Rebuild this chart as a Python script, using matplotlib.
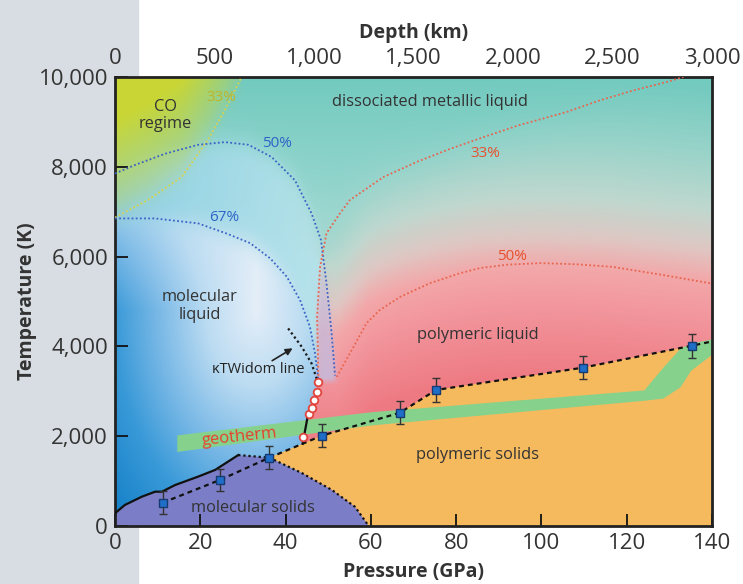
import numpy as np
import matplotlib.pyplot as plt
from matplotlib.colors import to_rgb
from matplotlib.patches import Rectangle

plt.rcParams['font.family'] = ['Open Sans', 'DejaVu Sans']

# ---- data (pressure in GPa, temperature in K) ----
# measured melting points with error bars
pts_P = [11.2, 24.6, 36.2, 48.5, 66.8, 75.3, 109.7, 135.3]
pts_T = [520, 1025, 1522, 2012, 2523, 3030, 3526, 4016]
pts_err = [255, 250, 260, 250, 260, 260, 260, 270]
melt_end = (140, 4110)   # where the dashed melting line leaves the frame

# top of molecular solids (solid black)
mol_P = [0, 2.3, 6.3, 9.4, 11, 14.1, 19.5, 23.5, 28.9]
mol_T = [283, 468, 653, 764, 764, 913, 1100, 1250, 1580]
# molecular solid / polymeric solid boundary (dotted)
ss_P = [36.2, 43.8, 50.9, 56.3, 59.5]
ss_T = [1522, 1180, 800, 425, 0]
# molecular liquid / polymeric liquid transition
bl_P = [44.0, 45.3]
bl_T = [1830, 2500]
circ_P = [44.1, 45.4, 46.1, 46.7, 47.3, 47.7]
circ_T = [1980, 2500, 2620, 2800, 2990, 3200]
# Widom line
widom_P = [40.6, 43.8, 46.1, 47.4]
widom_T = [4400, 3990, 3620, 3250]
# dissociation contours
y33_P = [0, 7.7, 15.6, 21.8, 25.8, 29.7]
y33_T = [6870, 7260, 7770, 8600, 9270, 10000]
b50_P = [0, 4.7, 11.7, 19.5, 25.8, 31.3, 36.7, 42.2, 46.1, 48.3, 49.6, 50.8, 51.6]
b50_T = [7850, 8040, 8290, 8490, 8550, 8490, 8220, 7700, 6960, 6370, 5400, 4290, 3350]
b67_P = [0, 9.4, 19.5, 26, 31.7, 36.4, 40.3, 43.4, 45.7, 46.9, 47.7]
b67_T = [6850, 6850, 6740, 6520, 6300, 5960, 5550, 5030, 4440, 3850, 3250]
r33_P = [47.7, 47.4, 48.1, 49.6, 52.8, 55.1, 62.9, 70.8, 78.6, 86.4, 94.5,
         105.9, 113.7, 121.5, 129.4, 133.3]
r33_T = [3250, 4660, 5775, 6520, 6970, 7260, 7770, 8110, 8400, 8660, 8920,
         9220, 9480, 9700, 9890, 10000]
r50_P = [52, 56, 59, 62.1, 66.8, 73.9, 80.9, 85.6, 92, 99.7, 108, 116.8, 128.5, 140]
r50_T = [3320, 4000, 4520, 4810, 5100, 5410, 5630, 5745, 5820, 5855, 5830, 5770, 5590, 5400]
# geotherm band
geo_P = [14.5, 60, 124, 128.5, 132.5, 135, 140]
geo_hi = [2030, 2545, 3030, 3540, 3960, 4070, 4170]
geo_lo = [1660, 2250, 2800, 2850, 3100, 3470, 3830]

p_ticks = [0, 20, 40, 60, 80, 100, 120, 140]
t_ticks = [0, 2000, 4000, 6000, 8000, 10000]
t_labels = ['0', '2,000', '4,000', '6,000', '8,000', '10,000']
d_ticks = [0, 500, 1000, 1500, 2000, 2500, 3000]
d_labels = ['0', '500', '1,000', '1,500', '2,000', '2,500', '3,000']


def sig(x):
    return 1.0 / (1.0 + np.exp(-np.clip(x, -40, 40)))


def ramp(x, knots, cols):
    c = np.array([to_rgb(k) for k in cols])
    return np.stack([np.interp(x, knots, c[:, i]) for i in range(3)], axis=-1)


def mix(a, b, w):
    return a * (1 - w[..., None]) + b * w[..., None]


# ---- painted background of the liquid field ----
P = np.linspace(0, 140, 700)
T = np.linspace(0, 10000, 500)
PP, TT = np.meshgrid(P, T)

d_low = np.sqrt(((PP - 33) / 33) ** 2 + ((TT - 4800) / 4800) ** 2)
d_high = np.abs(PP - 33) / 33 * (1 - 0.4 * np.clip((TT - 4800) / 2000, 0, 1))
d = np.where(TT < 4800, d_low, d_high)
left = ramp(d, [0, 0.35, 0.7, 1.0, 1.35],
            ['#e4eef8', '#bcdcf2', '#78b8e6', '#3a9ad8', '#1782c9'])
T67 = np.interp(PP, b67_P, b67_T)
left = mix(left, ramp(PP, [0, 45], ['#8ccfe2', '#b4e2ea']), sig((TT - T67) / 150))
T50 = np.interp(PP, b50_P, b50_T)
left = mix(left, ramp(TT, [7000, 10000], ['#9cd8d2', '#72cabe']), sig((TT - T50) / 150))
Ty = np.interp(PP, y33_P, y33_T, right=1e5)
wy = sig((TT - Ty) / 120) * (0.2 + 0.8 * np.clip((TT - Ty) / 2200, 0, 1))
left = mix(left, ramp(TT, [0, 1], ['#cad634', '#cad634']), wy)

shift = 0.6 * (5800 - np.interp(PP, r50_P, r50_T))
right = ramp(TT + shift, [0, 3300, 4800, 5700, 6400, 7300, 8600, 10000],
             ['#ec737c', '#ee7b84', '#f2959c', '#f3a7a9', '#dfc7c3',
              '#bfd8cf', '#98d3c9', '#74cabf'])

Pb = np.interp(TT, bl_T + r33_T, bl_P + r33_P)
width = 0.25 + 10 * np.clip((TT - 5800) / 2500, 0, 1)
img = mix(left, right, sig((PP - Pb) / width))
Pb50 = np.interp(TT, b50_T[-5:][::-1], b50_P[-5:][::-1])
wl = sig((PP - Pb) / 0.3) * sig((Pb50 - PP) / 0.3) * \
    np.interp(TT, [3150, 3300, 5000, 6300], [0, 0.9, 0.7, 0])
img = mix(img, ramp(TT, [0, 1], ['#c6badb', '#c6badb']), wl)

# ---- figure ----
fig = plt.figure(figsize=(7.43, 5.84), dpi=100)
fig.patches.append(Rectangle((0, 0), 138 / 743, 1, transform=fig.transFigure,
                             color='#d7dde2', zorder=-10))
ax = fig.add_axes([115 / 743, 58 / 584, 597 / 743, 449 / 584])
ax.imshow(img, extent=[0, 140, 0, 10000], origin='lower', aspect='auto',
          interpolation='bilinear', zorder=0)

# solid phases
ax.fill(pts_P[2:] + [melt_end[0], melt_end[0]] + ss_P[::-1],
        pts_T[2:] + [melt_end[1], 0] + ss_T[::-1], color='#f5b95e', lw=0, zorder=1)
ax.fill([0] + mol_P + ss_P + [0], [0] + mol_T + ss_T + [0],
        color='#7b7ec6', lw=0, zorder=1)
ax.fill_between(geo_P, geo_lo, geo_hi, color='#86d28c', lw=0, zorder=2)

dot = (0, (1, 1.3))
ax.plot(y33_P, y33_T, color='#d9d34a', lw=1.3, ls=dot, zorder=3)
ax.plot(b50_P, b50_T, color='#3b62c6', lw=1.3, ls=dot, zorder=3)
ax.plot(b67_P, b67_T, color='#3b62c6', lw=1.3, ls=dot, zorder=3)
ax.plot(r33_P, r33_T, color='#e8644e', lw=1.3, ls=dot, zorder=3)
ax.plot(r50_P, r50_T, color='#e8644e', lw=1.3, ls=dot, zorder=3)
ax.plot(widom_P, widom_T, color='#1a1a1a', lw=1.6, ls=dot, zorder=3)

ax.plot(mol_P, mol_T, color='#111111', lw=1.6, zorder=3)
ax.plot([mol_P[-1], pts_P[2]], [mol_T[-1], pts_T[2]], color='#111111', lw=1.6, ls=dot, zorder=3)
ax.plot(ss_P, ss_T, color='#111111', lw=1.6, ls=dot, zorder=3)
ax.plot(bl_P, bl_T, color='#111111', lw=1.6, zorder=3)
ax.plot(pts_P + [melt_end[0]], pts_T + [melt_end[1]], color='#111111', lw=1.6,
        ls=(0, (2.2, 1.8)), zorder=3)
ax.plot(circ_P, circ_T, 'o', mfc='white', mec='#e0443c', ms=5.5, mew=1.3, zorder=4)
ax.errorbar(pts_P, pts_T, yerr=pts_err, fmt='s', ms=6, mfc='#1f6fc8', mec='#173a70',
            ecolor='#333333', elinewidth=1, capsize=3, capthick=1, zorder=5)

ax.annotate('', xy=(42.2, 3990), xytext=(36.3, 3650),
            arrowprops=dict(arrowstyle='-|>', color='#222222', lw=1.2, mutation_scale=10),
            zorder=5)

lab = dict(fontsize=11.8, color='#333333', ha='center', va='center', zorder=6)
ax.text(11.9, 9150, 'CO\nregime', linespacing=1.1, **lab)
ax.text(73.9, 9440, 'dissociated metallic liquid', **lab)
ax.text(19.9, 4900, 'molecular\nliquid', linespacing=1.1, **lab)
ax.text(85.1, 4250, 'polymeric liquid', **lab)
ax.text(85.1, 1580, 'polymeric solids', **lab)
ax.text(32.4, 400, 'molecular solids', **lab)
ax.text(33.5, 3475, 'κTWidom line', fontsize=10.5, color='#222222', ha='center',
        va='center', zorder=6)
ax.text(29.3, 1990, 'geotherm', fontsize=12, color='#e8402a', ha='center', va='center',
        rotation=6, zorder=6)
pc = dict(fontsize=11, ha='center', va='center', zorder=6)
ax.text(24.9, 9550, '33%', color='#bdb52a', **pc)
ax.text(38, 8530, '50%', color='#2f63c8', **pc)
ax.text(25.6, 6860, '67%', color='#2f63c8', **pc)
ax.text(86.8, 8290, '33%', color='#e8502e', **pc)
ax.text(93.1, 6010, '50%', color='#e8502e', **pc)

ax.set_xlim(0, 140)
ax.set_ylim(0, 10000)
ax.set_xticks(p_ticks)
ax.set_xticklabels([str(p) for p in p_ticks])
ax.set_yticks(t_ticks)
ax.set_yticklabels(t_labels)
ax.tick_params(direction='in', length=9, width=1.3, labelsize=16, colors='#111111',
               labelcolor='#333333', pad=5)
for s in ax.spines.values():
    s.set_linewidth(2)
    s.set_color('#222222')
ax.set_xlabel('Pressure (GPa)', fontsize=14, fontweight='bold', color='#333333', labelpad=6)
ax.set_ylabel('Temperature (K)', fontsize=14, fontweight='bold', color='#333333', labelpad=1)

sec = ax.secondary_xaxis('top', functions=(lambda p: p * 3000 / 140, lambda dd: dd * 140 / 3000))
sec.set_xticks(d_ticks)
sec.set_xticklabels(d_labels)
sec.tick_params(length=0, labelsize=16, labelcolor='#333333', pad=6)
sec.spines['top'].set_visible(False)
sec.set_xlabel('Depth (km)', fontsize=14, fontweight='bold', color='#333333', labelpad=7)

fig.savefig('out.png', dpi=100)
